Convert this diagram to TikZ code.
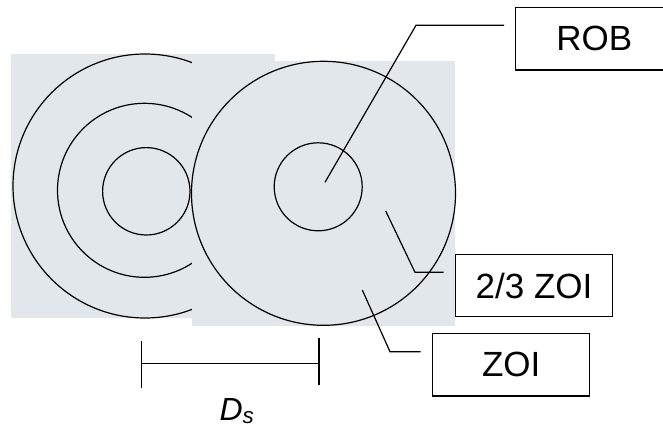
\documentclass[tikz,border=0pt]{standalone}
\usepackage{fontspec}
\setmainfont{Liberation Sans}
\definecolor{zonegray}{RGB}{226,231,236}
\begin{document}
\begin{tikzpicture}[x=1pt,y=-1pt,
  zone/.style={fill=zonegray,draw=none},
  ring/.style={draw=black,line width=1.2pt},
  leader/.style={draw=black,line width=1.2pt},
  labelbox/.style={draw=black,fill=white,line width=1.3pt,minimum width=157pt,minimum height=62.4pt,inner sep=0pt,font=\fontsize{35}{42}\selectfont},
  tick/.style={draw=black,line width=1.3pt}]
\useasboundingbox (0,0) rectangle (663,428);
% left zone
\fill[zone] (11,54) rectangle (275,318);
\draw[ring] (145,186) circle[radius=132];
\draw[ring] (144.5,190.3) circle[radius=87];
\draw[ring] (146.3,191.3) circle[radius=43.7];
% right zone
\fill[zone] (191.7,60.7) rectangle (455,325.7);
\draw[ring] (323.5,193.3) circle[radius=132];
\draw[ring] (318.2,186.8) circle[radius=44];
% label boxes
\node[labelbox] (rob) at (594.2,38.9) {ROB};
\node[labelbox] (twothirds) at (534,285.5) {2/3 ZOI};
\node[labelbox] (zoi) at (511.2,364.7) {ZOI};
% leader points
\coordinate (robtip) at (325,182.3);
\coordinate (robknee) at (416,25.3);
\coordinate (robend) at (504,25.3);
\coordinate (tttip) at (385.7,211);
\coordinate (ttknee) at (415,272.3);
\coordinate (ttend) at (443.5,272.3);
\coordinate (zoitip) at (362.3,290);
\coordinate (zoiknee) at (390,351.7);
\coordinate (zoiend) at (420.7,351.7);
\draw[leader] (robtip) -- (robknee) -- (robend);
\draw[leader] (tttip) -- (ttknee) -- (ttend);
\draw[leader] (zoitip) -- (zoiknee) -- (zoiend);
% Ds dimension
\coordinate (dsl) at (141.7,363.3);
\coordinate (dsr) at (319,363.3);
\draw[tick] (141.7,341) -- (141.7,387.7);
\draw[tick] (319,338.3) -- (319,385);
\draw[tick] (dsl) -- (dsr);
\node[anchor=base,inner sep=0pt,font=\fontsize{32}{38}\selectfont] (ds) at (237,420) {\textit{D}\textsubscript{\textit{s}}};
\end{tikzpicture}
\end{document}
